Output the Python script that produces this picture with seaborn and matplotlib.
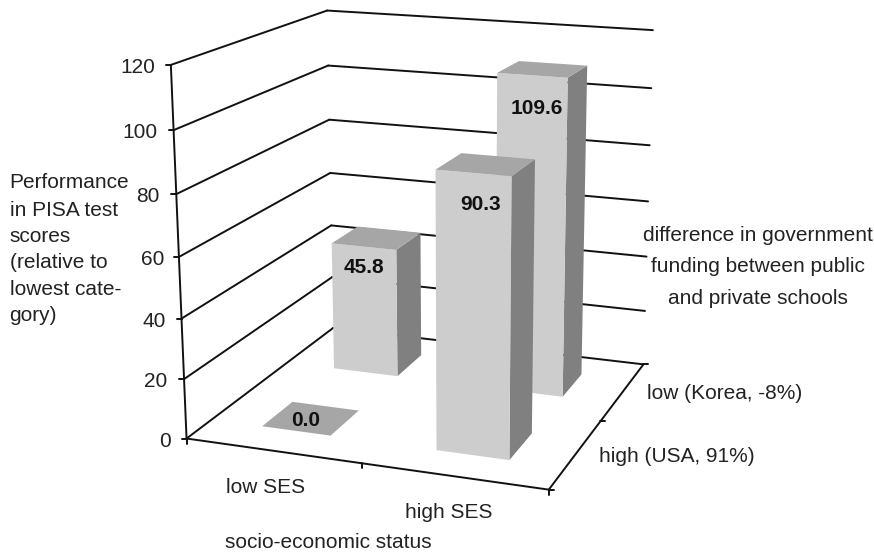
import numpy as np
import pandas as pd
import seaborn as sns
import matplotlib
matplotlib.use("Agg")
import matplotlib.pyplot as plt

sns.set_style("white")
plt.rcParams["font.family"] = ["Liberation Sans", "DejaVu Sans"]

# Chart values
ses_labels = ["low SES", "high SES"]
funding_labels = ["high (USA, 91%)", "low (Korea, -8%)"]
scores_front = [0.0, 90.3]
scores_back = [45.8, 109.6]
z_ticks = [0, 20, 40, 60, 80, 100, 120]

# Box corners of the chart space as (x, y, z) and their place on the canvas
box_space = np.array([(0, 0, 0), (0, 0, 1), (1, 0, 0), (1, 1, 0),
                      (0, 1, 1), (1, 1, 1), (0, 1, 0)], float)
box_canvas = np.array([(186, 439.5), (171.7, 64.5), (548.5, 489), (643.3, 365),
                       (326, 11), (653.3, 30), (334, 327)], float)


def fit_camera(space, canvas):
    rows, rhs = [], []
    for (x, y, z), (u, v) in zip(space, canvas):
        rows.append([x, y, z, 1, 0, 0, 0, 0, -u * x, -u * y, -u * z])
        rows.append([0, 0, 0, 0, x, y, z, 1, -v * x, -v * y, -v * z])
        rhs += [u, v]
    sol = np.linalg.lstsq(np.array(rows), np.array(rhs), rcond=None)[0]
    return np.append(sol, 1).reshape(3, 4)


camera = fit_camera(box_space, box_canvas)


def project(x, y, value):
    p = camera @ np.array([x, y, value / 120.0, 1.0])
    return p[0] / p[2], p[1] / p[2]


fig = plt.figure(figsize=(8.74, 5.52), dpi=100)
ax = fig.add_axes([0, 0, 1, 1])

# Walls' gridlines and the axes, all as projected segments
segments = []


def add_segment(a, b):
    sid = len(segments) and segments[-1][0] + 1
    segments.append((sid, *a))
    segments.append((sid, *b))


for z in z_ticks:
    add_segment(project(0, 0, z), project(0, 1, z))
    add_segment(project(0, 1, z), project(1, 1, z))
    u, v = project(0, 0, z)
    add_segment((u - 5, v), (u, v))
add_segment(project(0, 0, 0), project(0, 0, 120))
add_segment(project(0, 0, 0), project(1, 0, 0))
add_segment(project(1, 0, 0), project(1, 1, 0))
for t in (0, 0.5, 1):
    u, v = project(t, 0, 0)
    add_segment((u, v), (u, v + 5))
    u, v = project(1, t, 0)
    add_segment((u, v), (u + 5, v))

lines = pd.DataFrame(segments, columns=["seg", "u", "v"])
sns.lineplot(data=lines, x="u", y="v", units="seg", estimator=None, sort=False,
             color="#111111", linewidth=1.4, ax=ax, legend=False, zorder=1)

FRONT, TOP, SIDE = "#cdcdcd", "#a6a6a6", "#808080"
BAR_LOW, BAR_HIGH = 0.15, 0.35


def draw_bar(col, row, value, order, label_shift):
    x0, x1 = (col + BAR_LOW * 2) / 2, (col + BAR_HIGH * 2) / 2
    y0, y1 = (row + BAR_LOW * 2) / 2, (row + BAR_HIGH * 2) / 2
    side = [project(x1, y0, 0), project(x1, y1, 0), project(x1, y1, value), project(x1, y0, value)]
    top = [project(x0, y0, value), project(x1, y0, value), project(x1, y1, value), project(x0, y1, value)]
    front = [project(x0, y0, 0), project(x1, y0, 0), project(x1, y0, value), project(x0, y0, value)]
    if value > 0:
        ax.fill(*zip(*side), color=SIDE, lw=0, zorder=order)
        ax.fill(*zip(*front), color=FRONT, lw=0, zorder=order)
        anchor = ((front[2][0] + front[3][0]) / 2, (front[2][1] + front[3][1]) / 2)
    else:
        anchor = (sum(p[0] for p in top) / 4, sum(p[1] for p in top) / 4)
    ax.fill(*zip(*top), color=TOP, lw=0, zorder=order)
    ax.text(anchor[0] + label_shift[0], anchor[1] + label_shift[1], f"{value:.1f}",
            ha="center", va="baseline", fontsize=15, fontweight="bold",
            color="#111111", zorder=order + 0.5)


back_shift = [(0, 26.7), (4, 38.7)]
front_shift = [(-5, 7), (7, 37)]
for col in range(2):
    draw_bar(col, 1, scores_back[col], 2 + col, back_shift[col])
for col in range(2):
    draw_bar(col, 0, scores_front[col], 4 + col, front_shift[col])

TEXT = dict(fontsize=15, color="#222222", va="baseline")
tick_right = [171, 167, 166, 164.5, 159.5, 157, 155]
for z, right in zip(z_ticks, tick_right):
    ax.text(right, project(0, 0, z)[1] + 8, str(z), ha="right", **TEXT)

left_lines = ["Performance", "in PISA test", "scores", "(relative to", "lowest cate-", "gory)"]
for text, v in zip(left_lines, [188, 216, 242, 268, 295, 321]):
    ax.text(9.5, v, text, ha="left", **TEXT)

right_lines = ["difference in government", "funding between public", "and private schools"]
for text, v in zip(right_lines, [241, 272, 304]):
    ax.text(758, v, text, ha="center", **TEXT)

ax.text(266, 492.7, ses_labels[0], ha="center", **TEXT)
ax.text(449, 518, ses_labels[1], ha="center", **TEXT)
ax.text(328, 548, "socio-economic status", ha="center", **TEXT)
ax.text(725, 399, funding_labels[1], ha="center", **TEXT)
ax.text(677, 462, funding_labels[0], ha="center", **TEXT)

ax.set_xlim(0, 874)
ax.set_ylim(552, 0)
ax.axis("off")
fig.savefig("out.png", dpi=100)
